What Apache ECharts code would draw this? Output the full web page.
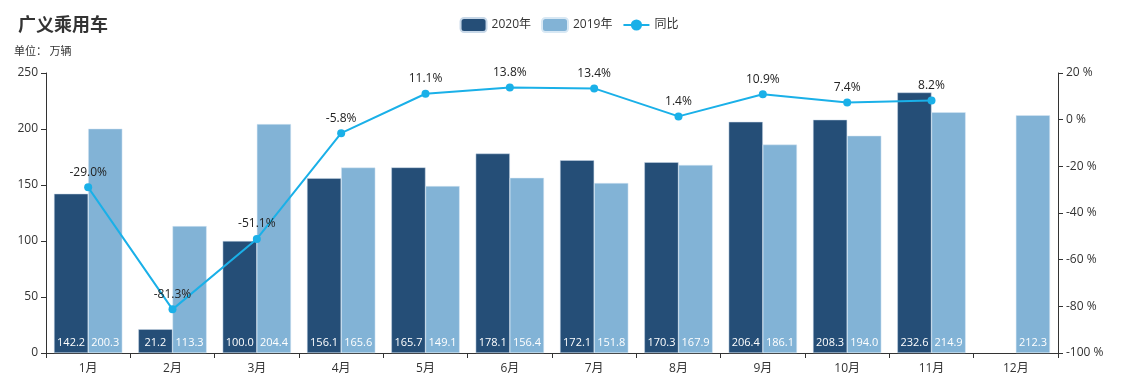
<!DOCTYPE html>
<html><head><meta charset="utf-8">
<script src="https://cdn.jsdelivr.net/npm/echarts@6/dist/echarts.min.js"></script>
<style>html,body{margin:0;padding:0;background:#fff}#c{width:1138px;height:385px}</style>
</head><body><div id="c"></div>
<script>
const categories = ['1月','2月','3月','4月','5月','6月','7月','8月','9月','10月','11月','12月'];
const sales2020 = [142.2,21.2,100.0,156.1,165.7,178.1,172.1,170.3,206.4,208.3,232.6,null];
const sales2019 = [200.3,113.3,204.4,165.6,149.1,156.4,151.8,167.9,186.1,194.0,214.9,212.3];
const yoy = [-29.0,-81.3,-51.1,-5.8,11.1,13.8,13.4,1.4,10.9,7.4,8.2,null];

const font = '"Open Sans", "Noto Sans CJK SC", sans-serif';
const cjk = '"Noto Sans CJK SC", sans-serif';
const chart = echarts.init(document.getElementById('c'));
const barLabel = {show:true,position:'insideBottom',color:'#fff',fontSize:11,fontFamily:font,
  formatter:p=>p.value==null?'':Number(p.value).toFixed(1)};
chart.setOption({
  animation:false,
  textStyle:{fontFamily:font},
  title:[
    {text:'广义乘用车',left:13,top:10,textStyle:{fontSize:18,fontWeight:'bold',color:'#333',fontFamily:cjk}},
    {text:'单位： 万辆',left:9,top:40,textStyle:{fontSize:11,fontWeight:'normal',color:'#333',fontFamily:cjk}}
  ],
  legend:{top:12,left:'center',itemWidth:26,itemHeight:14,itemGap:10,textStyle:{fontSize:12,color:'#333'},
    data:['2020年','2019年','同比']},
  grid:{left:46,right:80,top:73,bottom:32},
  xAxis:{type:'category',data:categories,
    axisLine:{lineStyle:{color:'#333'}},axisTick:{show:true,alignWithLabel:false},
    axisLabel:{color:'#333',fontSize:12,margin:10}},
  yAxis:[
    {type:'value',min:0,max:250,interval:50,splitLine:{show:false},
     axisLine:{show:true,lineStyle:{color:'#333'}},axisTick:{show:true},
     axisLabel:{color:'#333',fontSize:12}},
    {type:'value',min:-100,max:20,interval:20,splitLine:{show:false},
     axisLine:{show:true,lineStyle:{color:'#333'}},axisTick:{show:true},
     axisLabel:{color:'#333',fontSize:12,formatter:'{value} %'}}
  ],
  series:[
    {name:'2020年',type:'bar',data:sales2020,barGap:0,barCategoryGap:'19%',
     itemStyle:{color:'#254e77',borderColor:'#c8d8e8',borderWidth:0.5},label:barLabel},
    {name:'2019年',type:'bar',data:sales2019,
     itemStyle:{color:'#82b3d6',borderColor:'#d8e8f4',borderWidth:0.5},label:barLabel},
    {name:'同比',type:'line',yAxisIndex:1,data:yoy,symbol:'circle',symbolSize:8,
     lineStyle:{color:'#1ab0e8',width:2},itemStyle:{color:'#1ab0e8'},
     label:{show:true,position:'top',color:'#222',fontSize:12,formatter:p=>Number(p.value).toFixed(1)+'%'}}
  ]
});
</script></body></html>
